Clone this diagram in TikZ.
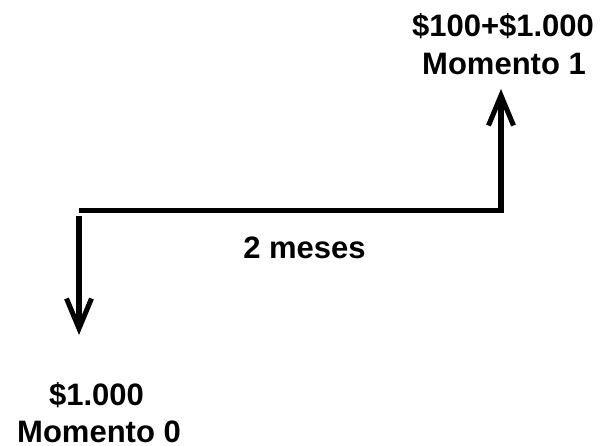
\documentclass[tikz,border=0pt]{standalone}
\usepackage{fontspec}
\setmainfont{Liberation Sans}
\usetikzlibrary{arrows.meta}
\tikzset{
  label text/.style={font=\fontsize{31}{37}\selectfont\bfseries, inner sep=0pt, anchor=base},
  flow/.style={line width=5.5pt, -{Straight Barb[length=30pt, width=25pt, line width=5pt]}},
  axis line/.style={line width=5pt}
}
\begin{document}
\begin{tikzpicture}[x=1pt, y=-1pt]
  \useasboundingbox (0,0) rectangle (600,446);
  % time line and cash-flow points
  \coordinate (m0) at (79,211);
  \coordinate (m1) at (501.5,211);
  \coordinate (out start) at (79,216);
  \coordinate (out end) at (79,335);
  \coordinate (in start) at (501,213);
  \coordinate (in end) at (501,89);
  \draw[axis line] (m0) -- (m1);
  \draw[flow] (out start) -- (out end);
  \draw[flow] (in start) -- (in end);
  % labels
  \node[label text] (v1) at (503,37) {\$100+\$1.000};
  \node[label text] (n1) at (504,75) {Momento 1};
  \node[label text] (span) at (304.5,259) {2 meses};
  \node[label text] (v0) at (96.5,406) {\$1.000};
  \node[label text] (n0) at (99,442) {Momento 0};
\end{tikzpicture}
\end{document}
